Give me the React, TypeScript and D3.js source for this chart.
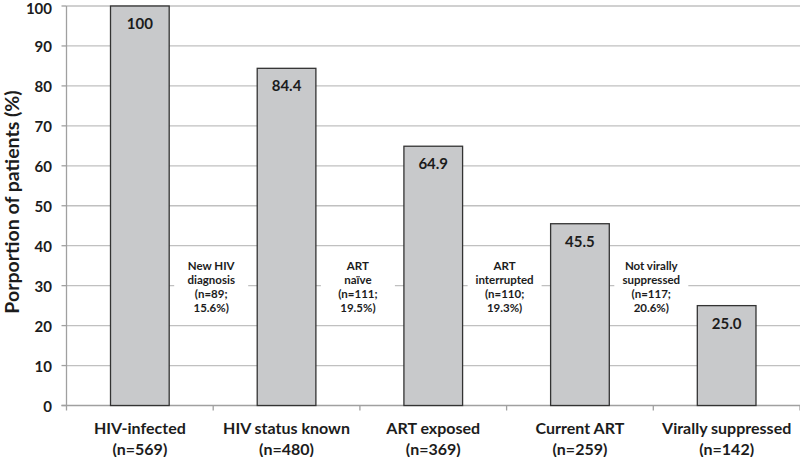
import React from "react";
import * as d3 from "d3";

const categories = ["HIV-infected", "HIV status known", "ART exposed", "Current ART", "Virally suppressed"];
const counts = ["(n=569)", "(n=480)", "(n=369)", "(n=259)", "(n=142)"];
const values = [100, 84.4, 64.9, 45.5, 25.0];
const valueLabels = ["100", "84.4", "64.9", "45.5", "25.0"];
const yTicks = [0, 10, 20, 30, 40, 50, 60, 70, 80, 90, 100];
const annotations = [
  ["New HIV", "diagnosis", "(n=89;", "15.6%)"],
  ["ART", "naïve", "(n=111;", "19.5%)"],
  ["ART", "interrupted", "(n=110;", "19.3%)"],
  ["Not virally", "suppressed", "(n=117;", "20.6%)"],
];
const yTitle = "Porportion of patients (%)";

const W = 800;
const H = 457;
const left = 66.5;
const right = 800;
const top = 6;
const bottom = 405.5;
const font = "Lato, 'Open Sans', sans-serif";
const ink = "#1c1c1c";

export default function App() {
  const x = d3.scaleBand<string>().domain(categories).range([left, right]).paddingInner(0).paddingOuter(0);
  const y = d3.scaleLinear().domain([0, 100]).range([bottom, top]);
  const bw = x.bandwidth();
  const barW = bw * 0.4;
  const boundaries = d3.range(categories.length + 1).map((i) => left + i * bw);

  return (
    <svg width={W} height={H} style={{ position: "absolute", left: 0, top: 0, background: "#fff" }}>
      {/* gridlines */}
      {yTicks.filter((t) => t > 0).map((t) => (
        <line key={t} x1={left} x2={right} y1={y(t)} y2={y(t)} stroke="#c0c0c0" strokeWidth={1.3} />
      ))}
      {/* annotation boxes */}
      {annotations.map((lines, i) => {
        const cx = boundaries[i + 1] - 2;
        return (
          <g key={i}>
            <rect x={cx - 37} y={y(37.5)} width={74} height={y(22.5) - y(37.5)} fill="#fff" />
            {lines.map((l, j) => (
              <text key={j} x={cx} y={265.5 + j * 14} textAnchor="middle" dominantBaseline="central"
                fontFamily={font} fontWeight="bold" fontSize={11.5} fill={ink}>{l}</text>
            ))}
          </g>
        );
      })}
      {/* axes */}
      <line x1={left} x2={left} y1={top} y2={bottom} stroke="#a0a0a0" strokeWidth={1.3} />
      <line x1={left - 5} x2={right} y1={bottom} y2={bottom} stroke="#a0a0a0" strokeWidth={1.3} />
      {yTicks.map((t) => (
        <line key={"yt" + t} x1={left - 5} x2={left} y1={y(t)} y2={y(t)} stroke="#a0a0a0" strokeWidth={1.3} />
      ))}
      {boundaries.map((b, i) => (
        <line key={"xt" + i} x1={b} x2={b} y1={bottom} y2={bottom + 5} stroke="#a0a0a0" strokeWidth={1.3} />
      ))}
      {/* bars */}
      {categories.map((c, i) => {
        const cx = (x(c) as number) + bw / 2;
        return (
          <g key={c}>
            <rect x={cx - barW / 2} y={y(values[i])} width={barW} height={bottom - y(values[i])}
              fill="#c8c9cb" stroke="#333" strokeWidth={1.3} />
            <text x={cx} y={y(values[i]) + 17} textAnchor="middle" dominantBaseline="central"
              fontFamily={font} fontWeight="bold" fontSize={15} fill={ink}>{valueLabels[i]}</text>
            <text x={cx} y={427.5} textAnchor="middle" dominantBaseline="central"
              fontFamily={font} fontWeight="bold" fontSize={16} fill={ink}>{c}</text>
            <text x={cx} y={448} textAnchor="middle" dominantBaseline="central"
              fontFamily={font} fontWeight="bold" fontSize={16} fill={ink}>{counts[i]}</text>
          </g>
        );
      })}
      {/* y tick labels */}
      {yTicks.map((t) => (
        <text key={"yl" + t} x={52} y={Math.max(y(t), 7.5)} textAnchor="end" dominantBaseline="central"
          fontFamily={font} fontWeight="bold" fontSize={15} fill={ink}>{t}</text>
      ))}
      <text transform={`translate(11,202) rotate(-90)`} textAnchor="middle"
        dominantBaseline="central" fontFamily={font} fontWeight="bold" fontSize={19.5} fill={ink}>{yTitle}</text>
    </svg>
  );
}
